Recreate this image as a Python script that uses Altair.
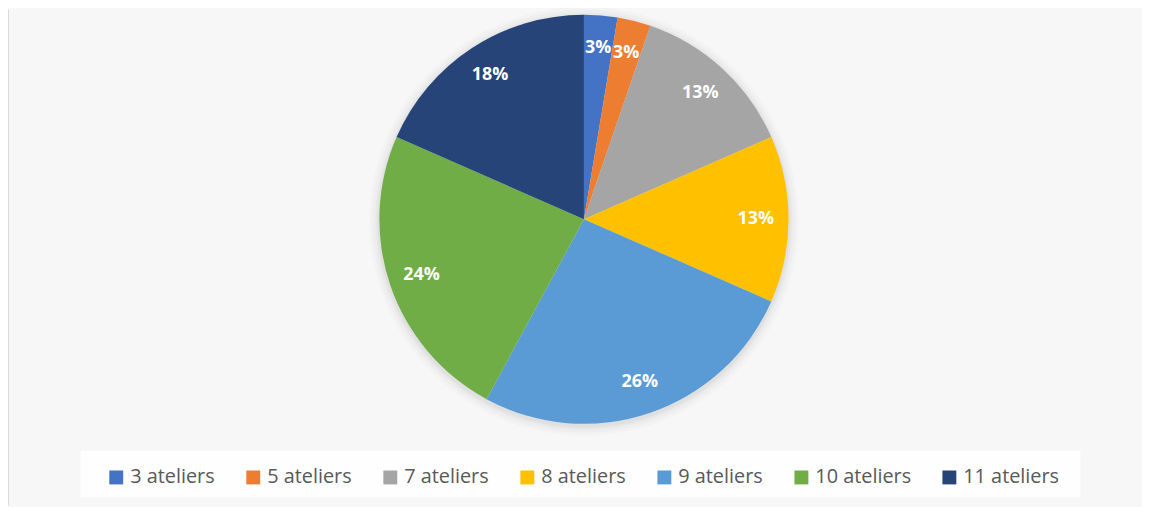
import altair as alt
import pandas as pd

categories = ["3 ateliers", "5 ateliers", "7 ateliers", "8 ateliers",
              "9 ateliers", "10 ateliers", "11 ateliers"]
counts = [1, 1, 5, 5, 10, 9, 7]
labels = ["3%", "3%", "13%", "13%", "26%", "24%", "18%"]
colors = ["#4472C4", "#ED7D31", "#A5A5A5", "#FFC000",
          "#5B9BD5", "#70AD47", "#264478"]

df = pd.DataFrame({"cat": categories, "n": counts, "lab": labels,
                   "order": list(range(len(categories)))})
one = pd.DataFrame({"k": [0]})

W, H = 1142, 499
CX, CY = 580, 211
R = 206

box = alt.Chart(one).mark_rect(color="white", opacity=0.85).encode(
    x=alt.value(73), x2=alt.value(1080), y=alt.value(444), y2=alt.value(491))

border = alt.Chart(one).mark_rule(color="#d9d9d9", strokeWidth=2).encode(
    x=alt.value(0), y=alt.value(0), y2=alt.value(H))

shadows = []
for k, op in [(10, 0.03), (7, 0.04), (4, 0.05), (2, 0.07)]:
    shadows.append(alt.Chart(one).mark_arc(
        outerRadius=R + k, theta=0, theta2=6.2832, color="#808080", opacity=op
    ).encode(x=alt.value(CX), y=alt.value(CY + 2)))

base = alt.Chart(df).encode(
    theta=alt.Theta("n:Q", stack=True),
    order=alt.Order("order:Q"),
)

pie = base.mark_arc(outerRadius=R).encode(
    x=alt.value(CX), y=alt.value(CY),
    color=alt.Color(
        "cat:N", sort=categories,
        scale=alt.Scale(domain=categories, range=colors),
        legend=alt.Legend(
            title=None, orient="none", direction="horizontal",
            legendX=99, legendY=461, columns=7,
            symbolType="square", symbolSize=196, symbolStrokeWidth=0,
            symbolOpacity=1, labelFontSize=20, labelColor="#595959",
            labelFont="Open Sans", labelOffset=4, columnPadding=28,
            labelLimit=300, padding=0,
        ),
    ),
)

text = base.mark_text(radius=173, fontSize=18, fontWeight="bold",
                      color="white", font="Open Sans").encode(
    x=alt.value(CX), y=alt.value(CY), text="lab:N")

chart = alt.layer(box, border, *shadows, pie, text).properties(
    width=W, height=H, autosize="none", padding=0, background="#f7f7f7"
).configure_view(stroke=None, fill="#f7f7f7")

chart.save("out.html", embed_options={"renderer": "svg", "actions": False})
